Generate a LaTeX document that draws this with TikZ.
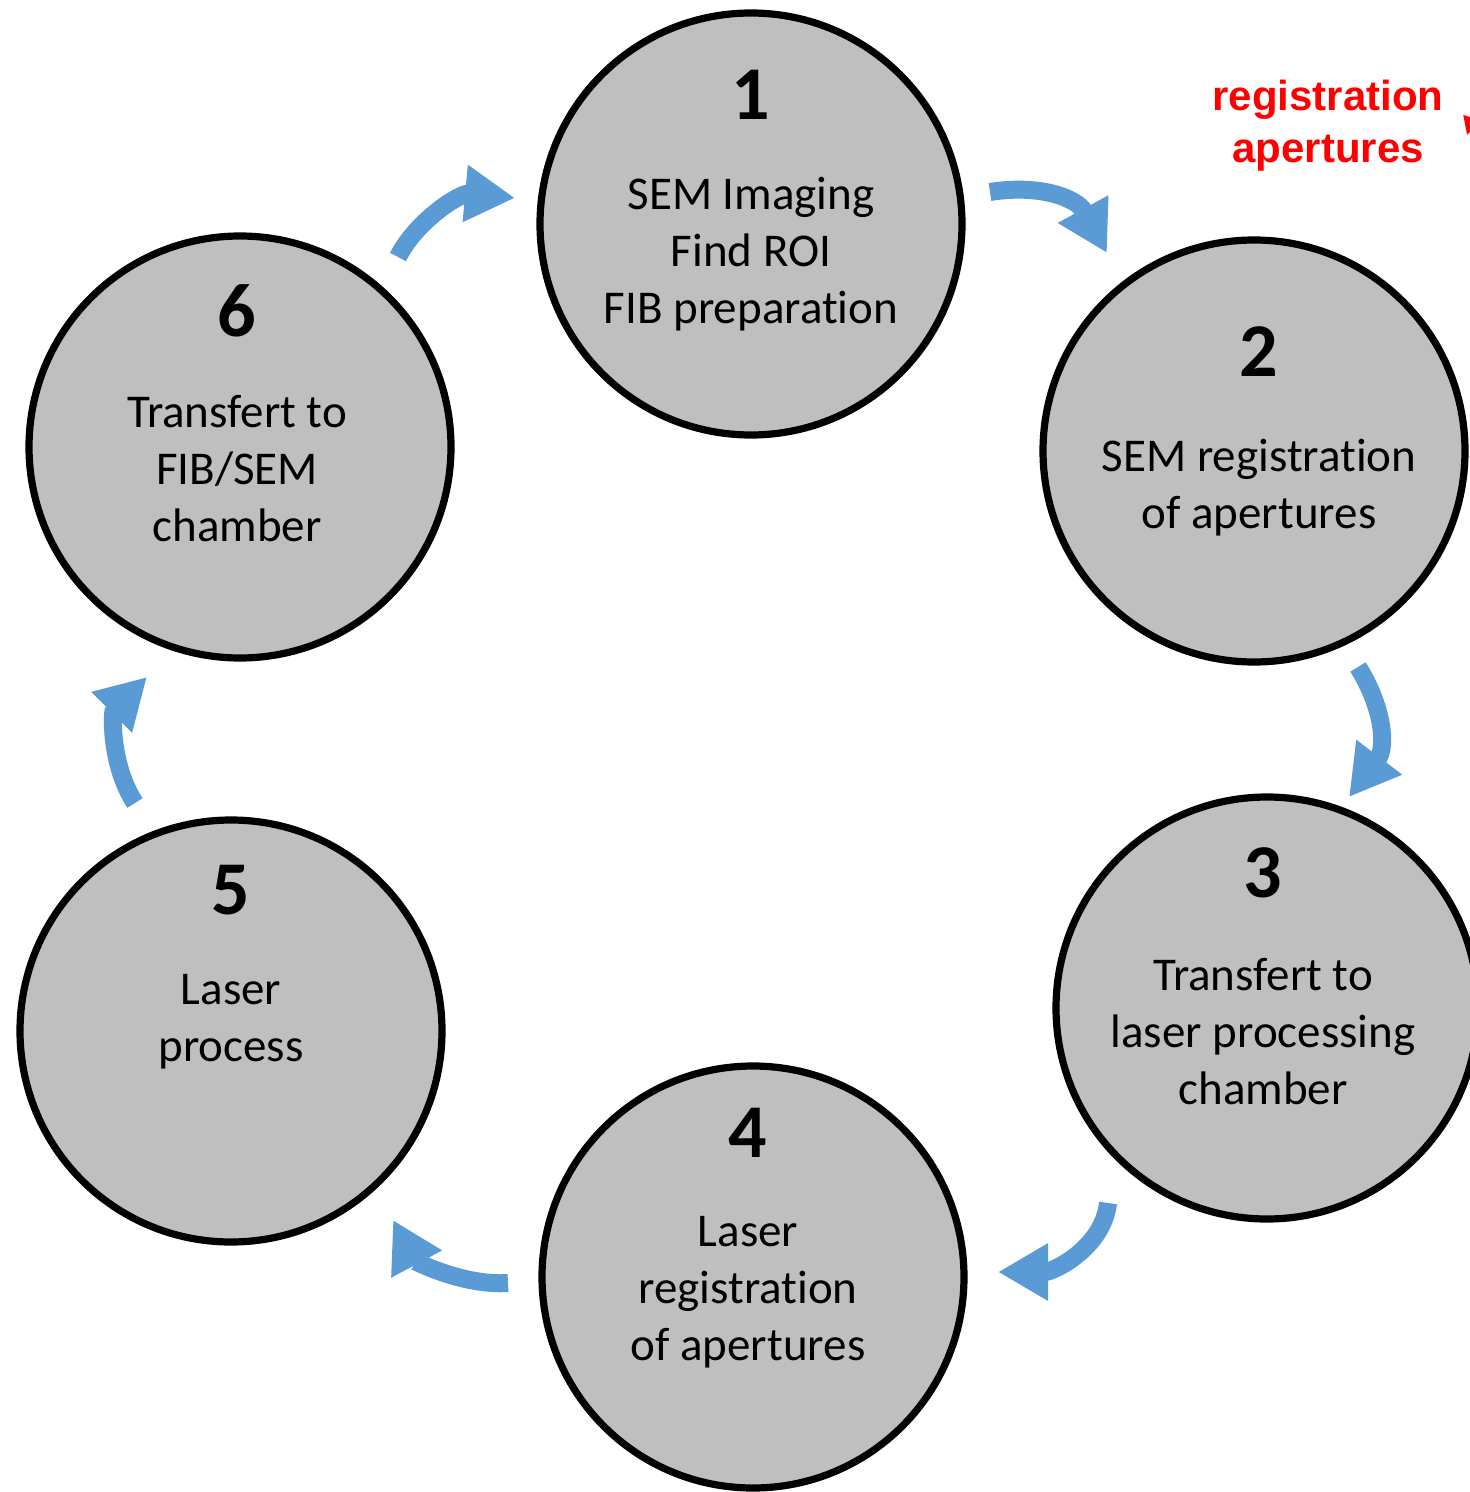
\documentclass[tikz,border=0pt]{standalone}
\usepackage{fontspec}
\setmainfont{Carlito}[Ligatures=NoCommon]
\newfontfamily\labelfont{Liberation Sans}
\usetikzlibrary{arrows.meta,positioning}
\definecolor{stagegray}{HTML}{BFBFBF}
\definecolor{flowblue}{HTML}{5B9BD5}
\definecolor{notered}{HTML}{FF0000}

\begin{document}
\begin{tikzpicture}[x=0.5pt, y=-0.5pt,
    stage/.style={circle, draw=black, line width=3.6pt, fill=stagegray, minimum size=211pt, inner sep=0pt},
    num/.style={font=\fontsize{38}{40}\selectfont\bfseries, inner sep=0pt},
    txt/.style={font=\fontsize{23.5}{28.5}\selectfont, align=center, inner sep=0pt},
    flow/.style={draw=flowblue, line width=9pt, -{Triangle[length=25pt, width=27pt]}}
]
    \clip (0,0) rectangle (1470,1492);

    % Etapes
    \node[stage] (c1) at (751,224) {};
    \node[stage] (c2) at (1254,451) {};
    \node[stage] (c3) at (1267,1008) {};
    \node[stage] (c4) at (753,1277) {};
    \node[stage] (c5) at (231,1031) {};
    \node[stage] (c6) at (240,447) {};

    \node[num] (n1) at (751,95) {1};
    \node[num] (n2) at (1259,352) {2};
    \node[num] (n3) at (1263,873) {3};
    \node[num] (n4) at (748,1133) {4};
    \node[num] (n5) at (231,890) {5};
    \node[num] (n6) at (237,311) {6};

    \node[txt] (t1) at (751,254) {SEM Imaging\\Find ROI\\FIB preparation};
    \node[txt] (t2) at (1259,488) {SEM registration\\of apertures};
    \node[txt] (t3) at (1263,1032) {Transfert to\\laser processing\\chamber};
    \node[txt] (t4) at (748,1292) {Laser\\registration\\of apertures};
    \node[txt] (t5) at (231,1022) {Laser\\process};
    \node[txt] (t6) at (237,469) {Transfert to\\FIB/SEM\\chamber};

    % Fleches
    \coordinate (a12s) at (990,192);
    \coordinate (a12e) at (1107,253);
    \coordinate (a23s) at (1358,667);
    \coordinate (a23e) at (1349,797);
    \coordinate (a34s) at (1108,1203);
    \coordinate (a34e) at (998,1272);
    \coordinate (a45s) at (508,1283);
    \coordinate (a45e) at (393,1220);
    \coordinate (a56s) at (135,803);
    \coordinate (a56e) at (147,677);
    \coordinate (a61s) at (398,257);
    \coordinate (a61e) at (515,198);

    \draw[flow] (a12s) .. controls +(50,-8) and +(-30,-55) .. (a12e);
    \draw[flow] (a23s) .. controls +(25,40) and +(38,-50) .. (a23e);
    \draw[flow] (a34s) .. controls +(-5,45) and +(55,0) .. (a34e);
    \draw[flow] (a45s) .. controls +(-45,3) and +(22,41) .. (a45e);
    \draw[flow] (a56s) .. controls +(-25,-38) and +(-35,35) .. (a56e);
    \draw[flow] (a61s) .. controls +(18,-36) and +(-55,-5) .. (a61e);

    % Label
    \node[font=\labelfont\bfseries\fontsize{21}{26}\selectfont, text=notered, align=center, inner sep=0pt] (reg) at (1328,126) {registration\\apertures};
    \coordinate (regs) at (1500,30);
    \coordinate (rege) at (1467,135);
    \draw[draw=notered, line width=2pt, -{Triangle[length=9pt, width=9pt]}] (regs) -- (rege);

\end{tikzpicture}
\end{document}
